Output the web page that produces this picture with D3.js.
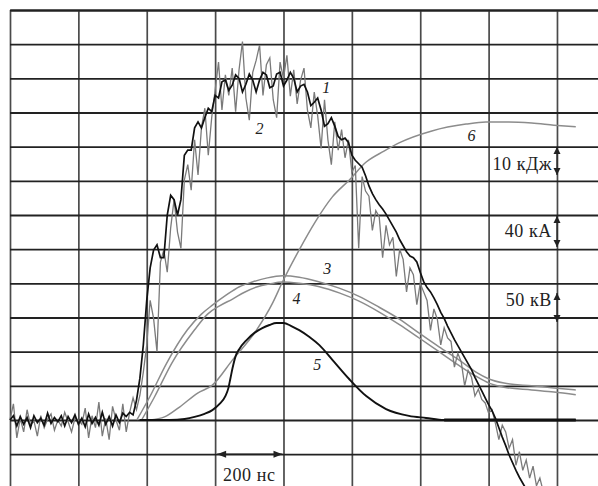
<!DOCTYPE html>
<html>
<head>
<meta charset="utf-8">
<script src="https://cdn.jsdelivr.net/npm/d3@7"></script>
<style>
  body { margin: 0; background: #fff; }
  svg { display: block; }
  text { font-family: "Liberation Serif", "DejaVu Serif", serif; fill: #222; }
</style>
</head>
<body>
<div id="chart"></div>
<script>
// oscillograms of the discharge: current (1, 2), voltage (3, 4),
// power (5, relative units) and energy (6)

// grid: 200 ns per division, vertical grid counted in divisions
var gridTimes = [0, 200, 400, 600, 800, 1000, 1200, 1400, 1600];
var gridDivs = [-1, 0, 1, 2, 3, 4, 5, 6, 7, 8, 9, 10, 11, 12];

// noisy current traces, one sample every 10 ns from t = 0, in kA
var sampleStep = 10;
var current1 = [
  0, 19, -21, 2, -14, 12, -6, -1, -19, 5,
  -9, 1, 7, -12, 0, -7, 9, -2, -14, 2,
  0, -5, 14, -21, 5, -9, 21, -19, 2, -23,
  16, 0, -12, 19, -14, 9, 26, 12, 29, 56,
  88, 140, 119, 80, 185, 199, 173, 225, 258, 220,
  201, 281, 299, 269, 328, 287, 342, 365, 310, 354,
  386, 419, 363, 404, 380, 412, 361, 410, 443, 377,
  351, 407, 421, 439, 380, 416, 424, 375, 354, 419,
  400, 427, 379, 410, 370, 398, 412, 363, 342, 384,
  356, 318, 375, 328, 299, 349, 316, 340, 307, 328,
  290, 298, 201, 285, 268, 262, 222, 245, 238, 190,
  228, 205, 214, 168, 200, 188, 150, 178, 170, 135,
  160, 150, 140, 105, 130, 118, 88, 108, 96, 92,
  62, 78, 68, 40, 58, 50, 28, 36, 24, 20,
  8, 12, -4, -23, -6, -14, -33, -23, -53, -37,
  -59, -47, -68, -54, -77, -68, -84
];
var current2 = [
  0, 5, -7, 4, -5, 3, -9, 5, -3, 2,
  -6, 8, -4, 3, -2, 5, -7, 4, -3, 6,
  -5, 2, -8, 7, -4, 3, -6, 9, -5, 4,
  -7, 6, -3, 8, 4, 9, 6, 23, 49, 88,
  140, 178, 199, 205, 190, 190, 240, 263, 258, 240,
  258, 310, 316, 316, 342, 349, 342, 354, 365, 361,
  380, 377, 396, 398, 386, 392, 404, 400, 384, 393,
  405, 398, 384, 398, 407, 404, 389, 391, 405, 407,
  391, 398, 407, 400, 384, 391, 393, 384, 368, 372,
  377, 363, 344, 347, 354, 344, 332, 328, 330, 325,
  310, 304, 300, 296, 286, 274, 265, 258, 252, 247,
  241, 234, 227, 220, 211, 204, 197, 192, 190, 185,
  173, 162, 155, 150, 143, 135, 126, 119, 110, 102,
  94, 87, 80, 73, 66, 59, 50, 42, 34, 26,
  18, 11, 2, -9, -20, -30, -41, -50, -59, -67,
  -74, -81, -88
];

// smooth traces as [time ns, value]
var voltage3 = [ // kV
  [371, 0], [409, 34], [458, 83], [519, 132], [560, 155], [592, 168],
  [633, 183], [671, 195], [709, 202], [753, 208], [797, 211], [846, 209],
  [905, 202], [963, 193], [1021, 181], [1080, 165], [1138, 148], [1197, 127],
  [1255, 107], [1313, 88], [1363, 70], [1401, 60], [1445, 54], [1526, 50],
  [1591, 47], [1655, 44]
];
var voltage4 = [ // kV
  [385, 0], [423, 34], [473, 83], [540, 132], [578, 155], [613, 167],
  [651, 177], [686, 187], [724, 195], [759, 199], [797, 202], [846, 200],
  [905, 195], [963, 186], [1021, 174], [1080, 158], [1138, 140], [1197, 120],
  [1255, 100], [1313, 80], [1363, 64], [1401, 54], [1445, 48], [1526, 44],
  [1591, 41], [1655, 37]
];
var power5 = [ // divisions
  [379, 0], [467, 0], [511, 0.03], [540, 0.09], [569, 0.18], [592, 0.29],
  [613, 0.47], [630, 0.7], [639, 0.94], [645, 1.23], [651, 1.52], [660, 1.87],
  [671, 2.08], [692, 2.34], [715, 2.55], [738, 2.69], [759, 2.78], [779, 2.84],
  [800, 2.84], [823, 2.75], [846, 2.63], [876, 2.43], [905, 2.19], [943, 1.76],
  [992, 1.2], [1042, 0.7], [1100, 0.32], [1167, 0.12], [1217, 0.06], [1270, 0],
  [1655, 0]
];
var energy6 = [ // kJ
  [409, 0], [452, 0.9], [496, 3.8], [549, 7.9], [592, 10.2], [651, 17.6],
  [721, 26.3], [768, 34.2], [797, 40.4], [846, 49.8], [893, 58], [943, 65.3],
  [992, 70.2], [1042, 75.5], [1094, 78.7], [1138, 81.1], [1234, 84.6],
  [1334, 86.6], [1392, 87.2], [1459, 87.2], [1526, 86.9], [1591, 86.3],
  [1655, 85.8]
];

// curve numbers: [text, time ns, divisions]
var curveLabels = [
  ["1", 925, 9.57], ["2", 730, 8.37], ["3", 928, 4.27],
  ["4", 838, 3.39], ["5", 899, 1.46], ["6", 1350, 8.17]
];
// scale marks: [text, text baseline div, arrow from div, arrow to div]
var scaleMarks = [
  ["10 кДж", 7.32, 7.99, 7.17],
  ["40 кА", 5.36, 5.97, 5.06],
  ["50 кВ", 3.34, 3.72, 2.87]
];
var timeMark = ["200 нс", 600, 800];

var width = 598, height = 486;

var svg = d3.select("#chart").append("svg")
  .attr("width", width)
  .attr("height", height);

// scales
var x = d3.scaleLinear().domain([0, 1720]).range([10, 598]);
var yDiv = d3.scaleLinear().domain([0, 12]).range([420, 10]);
var yCur = d3.scaleLinear().domain([0, 480]).range([420, 10]);   // 40 kA / div
var yVolt = d3.scaleLinear().domain([0, 600]).range([420, 10]);  // 50 kV / div
var yEn = d3.scaleLinear().domain([0, 120]).range([420, 10]);    // 10 kJ / div

// vertical grid lines
svg.append("g")
  .attr("class", "grid")
  .attr("transform", "translate(0,10)")
  .call(d3.axisTop(x).tickValues(gridTimes).tickSize(-(height - 10)).tickSizeOuter(0).tickFormat(""))
  .call(function (g) {
    g.selectAll(".tick line").attr("stroke", "#4a4a4a").attr("stroke-width", 1.7);
    g.select(".domain").attr("stroke", "#222").attr("stroke-width", 1.8);
  });

// horizontal grid lines
svg.append("g")
  .attr("class", "grid")
  .attr("transform", "translate(10,0)")
  .call(d3.axisLeft(yDiv).tickValues(gridDivs).tickSize(-(width - 10)).tickSizeOuter(0).tickFormat(""))
  .call(function (g) {
    g.selectAll(".tick line").attr("stroke", "#222").attr("stroke-width", 1.8);
    g.select(".domain").remove();
  });

var traces = svg.append("g");

function sampled(values) {
  return values.map(function (v, i) { return [i * sampleStep, v]; });
}

function smoothLine(yScale) {
  return d3.line()
    .x(function (d) { return x(d[0]); })
    .y(function (d) { return yScale(d[1]); })
    .curve(d3.curveMonotoneX);
}

var rawLine = d3.line()
  .x(function (d) { return x(d[0]); })
  .y(function (d) { return yCur(d[1]); });

// gray curves
traces.append("path").datum(energy6)
  .attr("d", smoothLine(yEn))
  .attr("fill", "none").attr("stroke", "#8c8c8c").attr("stroke-width", 1.5);
traces.append("path").datum(voltage3)
  .attr("d", smoothLine(yVolt))
  .attr("fill", "none").attr("stroke", "#8c8c8c").attr("stroke-width", 1.5);
traces.append("path").datum(voltage4)
  .attr("d", smoothLine(yVolt))
  .attr("fill", "none").attr("stroke", "#8c8c8c").attr("stroke-width", 1.5);
traces.append("path").datum(sampled(current1))
  .attr("d", rawLine)
  .attr("fill", "none").attr("stroke", "#7a7a7a").attr("stroke-width", 1.3);

// black curves
traces.append("path").datum(power5)
  .attr("d", smoothLine(yDiv))
  .attr("fill", "none").attr("stroke", "#111").attr("stroke-width", 1.9);
traces.append("path").datum(power5.filter(function (d) { return d[0] >= 1270; }))
  .attr("d", smoothLine(yDiv))
  .attr("fill", "none").attr("stroke", "#111").attr("stroke-width", 3);
traces.append("path").datum(sampled(current2))
  .attr("d", rawLine)
  .attr("fill", "none").attr("stroke", "#111").attr("stroke-width", 1.7);

// curve numbers
svg.selectAll(".curve-label")
  .data(curveLabels)
  .enter().append("text")
  .attr("class", "curve-label")
  .attr("x", function (d) { return x(d[1]); })
  .attr("y", function (d) { return yDiv(d[2]); })
  .attr("text-anchor", "middle")
  .style("font-style", "italic")
  .style("font-size", "16px")
  .attr("fill", "#333")
  .text(function (d) { return d[0]; });

// vertical scale marks on the last grid line
var markX = x(1600);
var marks = svg.selectAll(".mark")
  .data(scaleMarks)
  .enter().append("g")
  .attr("class", "mark");

marks.append("text")
  .attr("x", markX - 5)
  .attr("y", function (d) { return yDiv(d[1]); })
  .attr("text-anchor", "end")
  .style("font-size", "18px")
  .style("letter-spacing", "0.6px")
  .text(function (d) { return d[0]; });

marks.append("line")
  .attr("x1", markX).attr("x2", markX)
  .attr("y1", function (d) { return yDiv(d[2]); })
  .attr("y2", function (d) { return yDiv(d[3]); })
  .attr("stroke", "#222").attr("stroke-width", 1.2);

marks.append("path")
  .attr("d", function (d) {
    var t = yDiv(d[2]);
    return "M" + markX + "," + t + "l-3.5,7h7z";
  })
  .attr("fill", "#222");

marks.append("path")
  .attr("d", function (d) {
    var b = yDiv(d[3]);
    return "M" + markX + "," + b + "l-3.5,-7h7z";
  })
  .attr("fill", "#222");

// 200 ns mark
var tx0 = x(timeMark[1]) + 2, tx1 = x(timeMark[2]) - 1, ty = yDiv(-1);
svg.append("line")
  .attr("x1", tx0).attr("x2", tx1)
  .attr("y1", ty).attr("y2", ty)
  .attr("stroke", "#222").attr("stroke-width", 1.2);
svg.append("path")
  .attr("d", "M" + tx0 + "," + ty + "l9,-3.5v7z")
  .attr("fill", "#222");
svg.append("path")
  .attr("d", "M" + tx1 + "," + ty + "l-9,-3.5v7z")
  .attr("fill", "#222");
svg.append("text")
  .attr("x", x((timeMark[1] + timeMark[2]) / 2))
  .attr("y", yDiv(-1.78))
  .attr("text-anchor", "middle")
  .style("font-size", "18px")
  .style("letter-spacing", "0.6px")
  .text(timeMark[0]);
</script>
</body>
</html>
